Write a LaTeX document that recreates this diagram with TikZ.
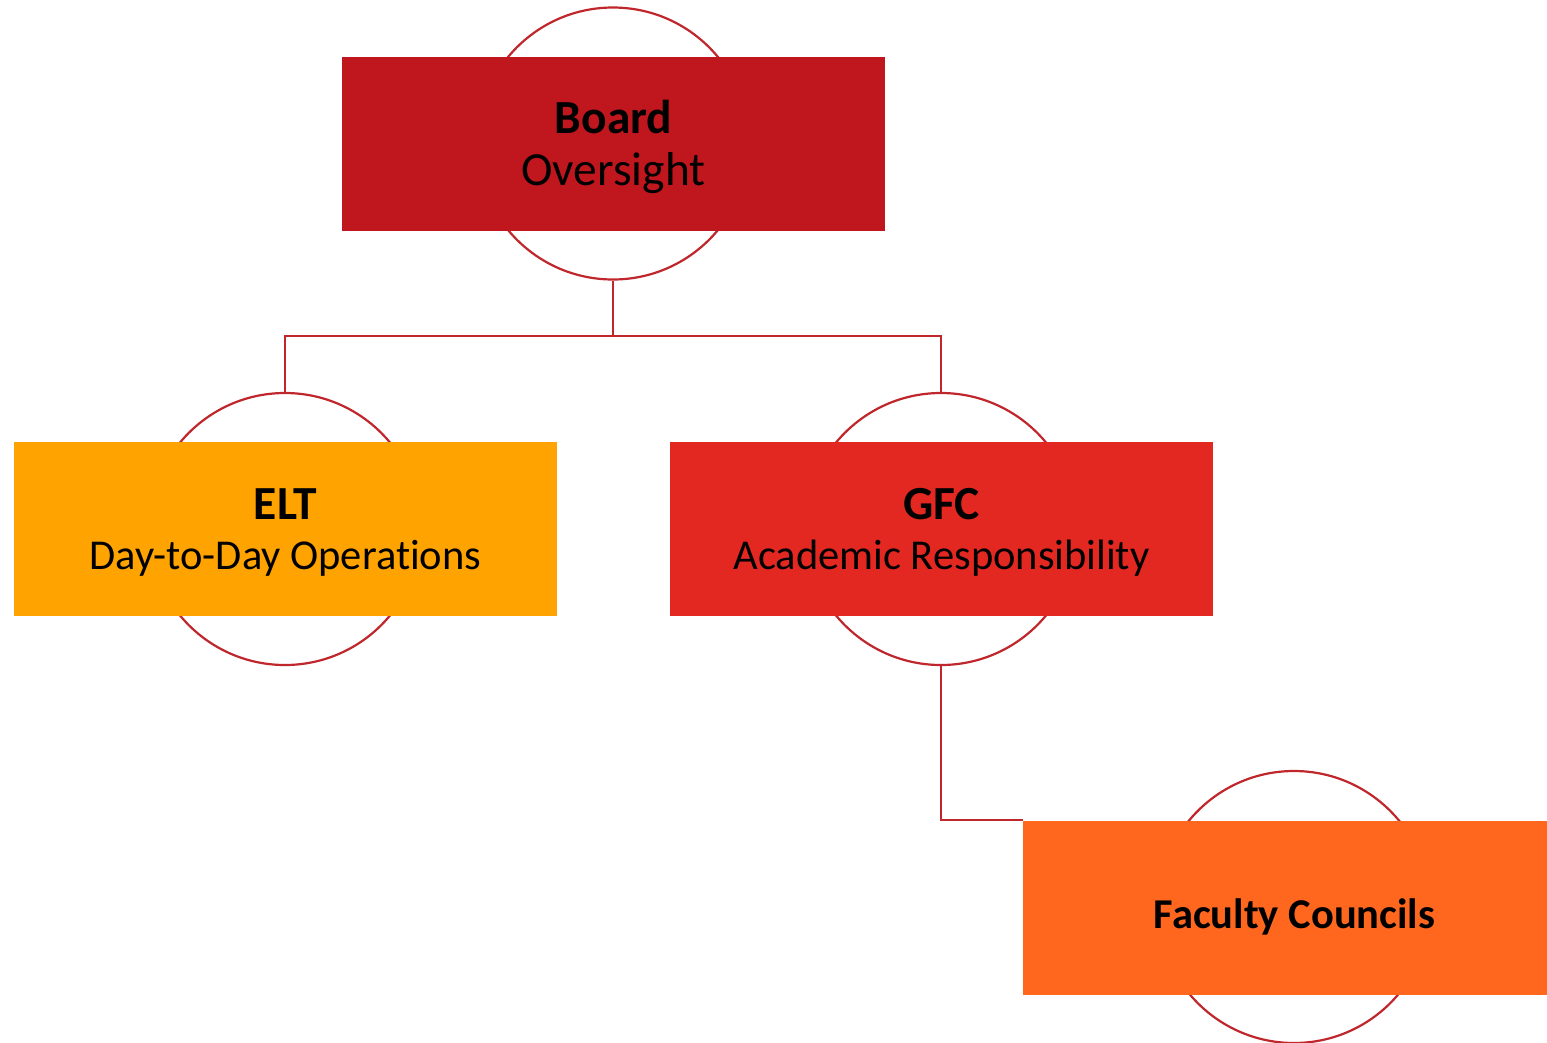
\documentclass[tikz,border=0pt]{standalone}
\usepackage{fontspec}
\setmainfont{Carlito}[Ligatures={NoCommon}]
\definecolor{boardred}{HTML}{C0161E}
\definecolor{eltorange}{HTML}{FFA300}
\definecolor{gfcred}{HTML}{E32822}
\definecolor{facorange}{HTML}{FF671F}
\definecolor{linered}{HTML}{C0272D}
\newcommand{\headfont}{\fontsize{47.5}{52}\selectfont\bfseries}
\tikzset{
  ring/.style={circle, draw=linered, line width=2.2pt, fill=white, minimum size=272pt, inner sep=0pt},
  unitbox/.style={rectangle, inner sep=0pt, minimum width=543pt, minimum height=174pt},
  unittext/.style={inner sep=0pt, align=center, text=black, font=\fontsize{42.5}{51}\selectfont},
  conn/.style={draw=linered, line width=2.2pt}
}
\begin{document}
\begin{tikzpicture}[x=1pt,y=-1pt]
\useasboundingbox (0,0) rectangle (1547,1042);
\begin{scope}
\clip (0,0) rectangle (1547,1042);
\node[ring] (bc) at (613,143.5) {};
\node[ring] (ec) at (285,529) {};
\node[ring] (gc) at (941,529) {};
\node[ring] (fc) at (1294,907) {};
\node[unitbox, fill=boardred] (br) at (613.5,144) {};
\node[unitbox, fill=eltorange] (er) at (285.5,528.5) {};
\node[unitbox, fill=gfcred] (gr) at (941.5,528.5) {};
\node[unitbox, fill=facorange] (fr) at (1294.5,907.5) {};
\end{scope}
\node[unittext, font=\fontsize{47.5}{52}\selectfont] (bt) at ([yshift=-3pt]br.center) {\textbf{Board}\\Oversight};
\node[unittext] (et) at ([yshift=-4pt]er.center) {{\headfont ELT}\\[-1pt]Day-to-Day Operations};
\node[unittext] (gt) at ([yshift=-4pt]gr.center) {{\headfont GFC}\\[-1pt]Academic Responsibility};
\node[unittext] (ft) at ([yshift=-9pt]fr.center) {\textbf{Faculty Councils}};
\coordinate (split) at (613,336);
\draw[conn] (bc.south) -- (split);
\draw[conn] (split) -| (ec.north);
\draw[conn] (split) -| (gc.north);
\draw[conn] (gc.south) |- (fr.north west);
\end{tikzpicture}
\end{document}
